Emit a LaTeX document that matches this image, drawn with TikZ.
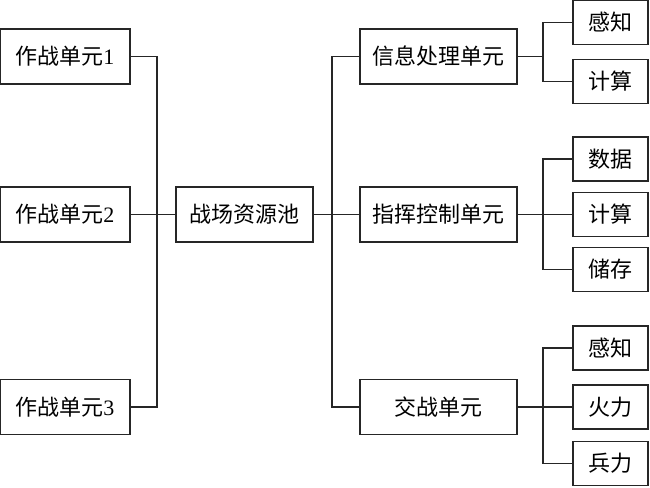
\documentclass[tikz,border=0pt]{standalone}
\usepackage{fontspec}
\setmainfont{Liberation Serif}
\newfontfamily\cjk{Noto Sans CJK SC}
\usetikzlibrary{positioning}

\tikzset{
  box/.style={draw=black!85, line width=1.2pt, inner sep=0pt, font=\fontsize{22}{22}\selectfont},
  unitbox/.style={box, minimum width=130pt, minimum height=55pt},
  midbox/.style={box, minimum width=157pt, minimum height=55pt},
  leafbox/.style={box, minimum width=75pt, minimum height=44pt},
  link/.style={draw=black!85, line width=1.2pt}
}

\begin{document}
\begin{tikzpicture}[x=1pt, y=-1pt]
        \useasboundingbox (0,0) rectangle (650,487);

        % combat units on the left
        \node[unitbox] (w1) at (65,56.5) {{\cjk 作战单元}1};
        \node[unitbox] (w2) at (65,214.5) {{\cjk 作战单元}2};
        \node[unitbox] (w3) at (65,407) {{\cjk 作战单元}3};

        % resource pool
        \node[box, minimum width=137pt, minimum height=55pt] (pool) at (244.5,214.5) {\cjk 战场资源池};

        % the three kinds of units
        \node[midbox] (info) at (438.5,56.5) {\cjk 信息处理单元};
        \node[midbox] (cmd) at (438.5,214.5) {\cjk 指挥控制单元};
        \node[midbox] (fight) at (438.5,407) {\cjk 交战单元};

        % capabilities
        \foreach \n/\y/\t in {s1/22.5/感知, s2/81.5/计算, s3/159/数据, s4/214.5/计算,
                              s5/269.5/储存, s6/348/感知, s7/407/火力, s8/463.5/兵力}
        {
          \node[leafbox] (\n) at (610.5,\y) {\cjk \t};
        }

        % buses
        \coordinate (lbus) at (157,214.5);
        \coordinate (rbus) at (332,214.5);
        \coordinate (ibus) at (543,56.5);
        \coordinate (cbus) at (543,214.5);
        \coordinate (fbus) at (543,407);

        \draw[link] (w1.east) -| (lbus) |- (w3.east);
        \draw[link] (w2.east) -- (pool.west);
        \draw[link] (info.west) -| (rbus) |- (fight.west);
        \draw[link] (pool.east) -- (cmd.west);

        \draw[link] (s1.west) -| (ibus) |- (s2.west);
        \draw[link] (info.east) -- (ibus);
        \draw[link] (s3.west) -| (cbus) |- (s5.west);
        \draw[link] (cmd.east) -- (s4.west);
        \draw[link] (s6.west) -| (fbus) |- (s8.west);
        \draw[link] (fight.east) -- (s7.west);
      \end{tikzpicture}
\end{document}
